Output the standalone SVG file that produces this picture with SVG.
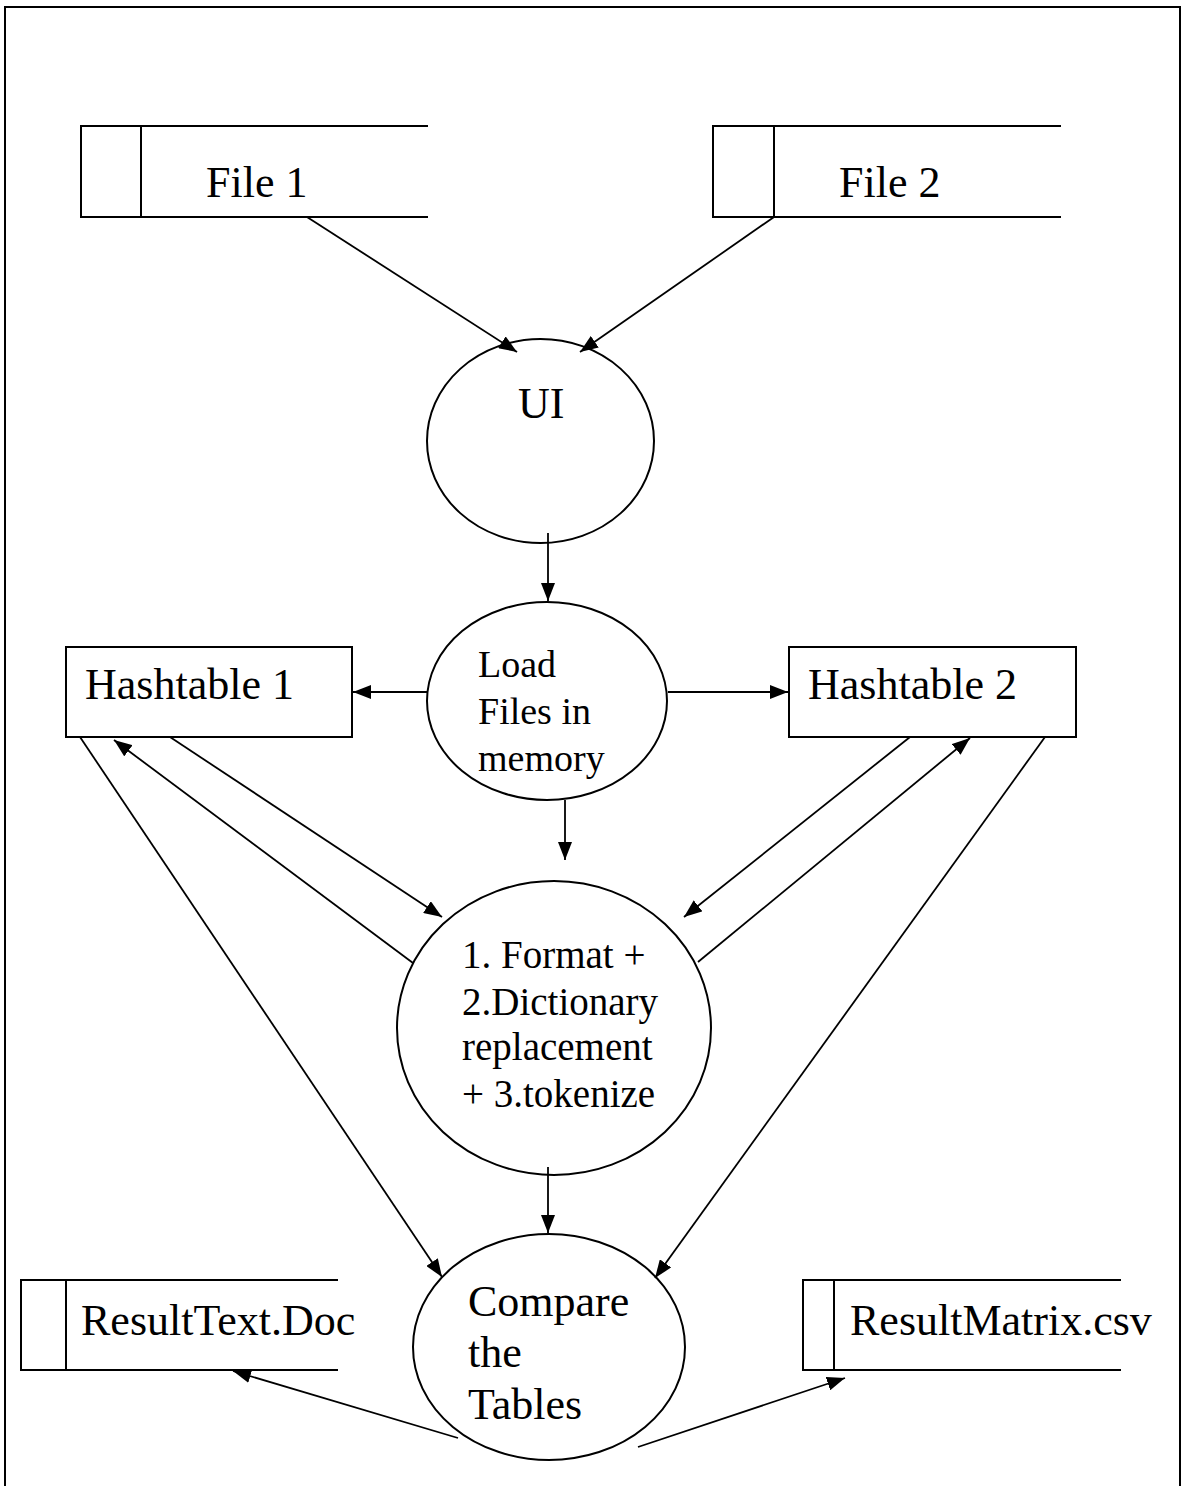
<svg xmlns="http://www.w3.org/2000/svg" width="1183" height="1486" viewBox="0 0 1183 1486">
  <defs>
    <marker id="arrow" markerUnits="userSpaceOnUse" markerWidth="18" markerHeight="14" refX="18" refY="7" orient="auto">
      <path d="M0,0 L18,7 L0,14 z" fill="#000"/>
    </marker>
    <style>
      .shape { fill: #fff; stroke: #000; stroke-width: 2; }
      .store { fill: none; stroke: #000; stroke-width: 2; }
      .edge { fill: none; stroke: #000; stroke-width: 1.8; }
      .arr { marker-end: url(#arrow); }
      text { font-family: "Liberation Serif", "Times New Roman", serif; fill: #000; }
      .big { font-size: 44px; }
      .mid { font-size: 39px; }
      .small { font-size: 38px; }
    </style>
  </defs>

  <rect width="1183" height="1486" fill="#fff"/>
  <!-- page frame (bottom edge falls outside the canvas) -->
  <rect x="5" y="7" width="1175" height="1500" fill="none" stroke="#000" stroke-width="2"/>

  <!-- data stores -->
  <g id="file1">
    <path class="store" d="M428,126 H81 V217 H428 M141,126 V217"/>
    <text class="big" x="206" y="197">File 1</text>
  </g>
  <g id="file2">
    <path class="store" d="M1061,126 H713 V217 H1061 M774,126 V217"/>
    <text class="big" x="839" y="197">File 2</text>
  </g>

  <!-- processes -->
  <g id="ui">
    <ellipse class="shape" cx="540.5" cy="441" rx="113.5" ry="102"/>
    <text class="big" x="518" y="418">UI</text>
  </g>
  <g id="load">
    <ellipse class="shape" cx="547" cy="701" rx="120" ry="99"/>
    <text class="small" x="478" y="677">Load</text>
    <text class="small" x="478" y="724">Files in</text>
    <text class="small" x="478" y="771">memory</text>
  </g>
  <g id="hashtable1">
    <rect class="shape" x="66" y="647" width="286" height="90"/>
    <text class="big" x="85" y="699">Hashtable 1</text>
  </g>
  <g id="hashtable2">
    <rect class="shape" x="789" y="647" width="287" height="90"/>
    <text class="big" x="808" y="699">Hashtable 2</text>
  </g>
  <g id="format">
    <ellipse class="shape" cx="554" cy="1028" rx="157" ry="147"/>
    <text class="mid" x="462" y="968">1. Format +</text>
    <text class="mid" x="462" y="1015">2.Dictionary</text>
    <text class="mid" x="462" y="1060">replacement</text>
    <text class="mid" x="462" y="1107">+ 3.tokenize</text>
  </g>
  <g id="compare">
    <ellipse class="shape" cx="549" cy="1347" rx="136" ry="113"/>
    <text class="big" x="468" y="1316">Compare</text>
    <text class="big" x="468" y="1367">the</text>
    <text class="big" x="468" y="1419">Tables</text>
  </g>
  <g id="resulttext">
    <path class="store" d="M338,1280 H21 V1370 H338 M66,1280 V1370"/>
    <text class="big" x="81" y="1335">ResultText.Doc</text>
  </g>
  <g id="resultmatrix">
    <path class="store" d="M1121,1280 H803 V1370 H1121 M834,1280 V1370"/>
    <text class="big" x="850" y="1335">ResultMatrix.csv</text>
  </g>

  <!-- connectors -->
  <g id="connectors">
    <line class="edge arr" x1="307" y1="217" x2="517" y2="352"/>
    <line class="edge arr" x1="774" y1="217" x2="580" y2="352"/>
    <line class="edge arr" x1="548" y1="533" x2="548" y2="601"/>
    <line class="edge arr" x1="428" y1="692" x2="353" y2="692"/>
    <line class="edge arr" x1="668" y1="692" x2="788" y2="692"/>
    <line class="edge arr" x1="565" y1="800" x2="565" y2="860"/>
    <line class="edge arr" x1="170" y1="737" x2="442" y2="917"/>
    <line class="edge arr" x1="413" y1="963" x2="114" y2="740"/>
    <line class="edge arr" x1="80" y1="737" x2="442" y2="1277"/>
    <line class="edge arr" x1="910" y1="737" x2="684" y2="917"/>
    <line class="edge arr" x1="698" y1="962" x2="970" y2="738"/>
    <line class="edge arr" x1="1045" y1="737" x2="655" y2="1278"/>
    <line class="edge arr" x1="548" y1="1167" x2="548" y2="1233"/>
    <line class="edge arr" x1="458" y1="1438" x2="233" y2="1371"/>
    <line class="edge arr" x1="638" y1="1447" x2="845" y2="1378"/>
  </g>
</svg>
